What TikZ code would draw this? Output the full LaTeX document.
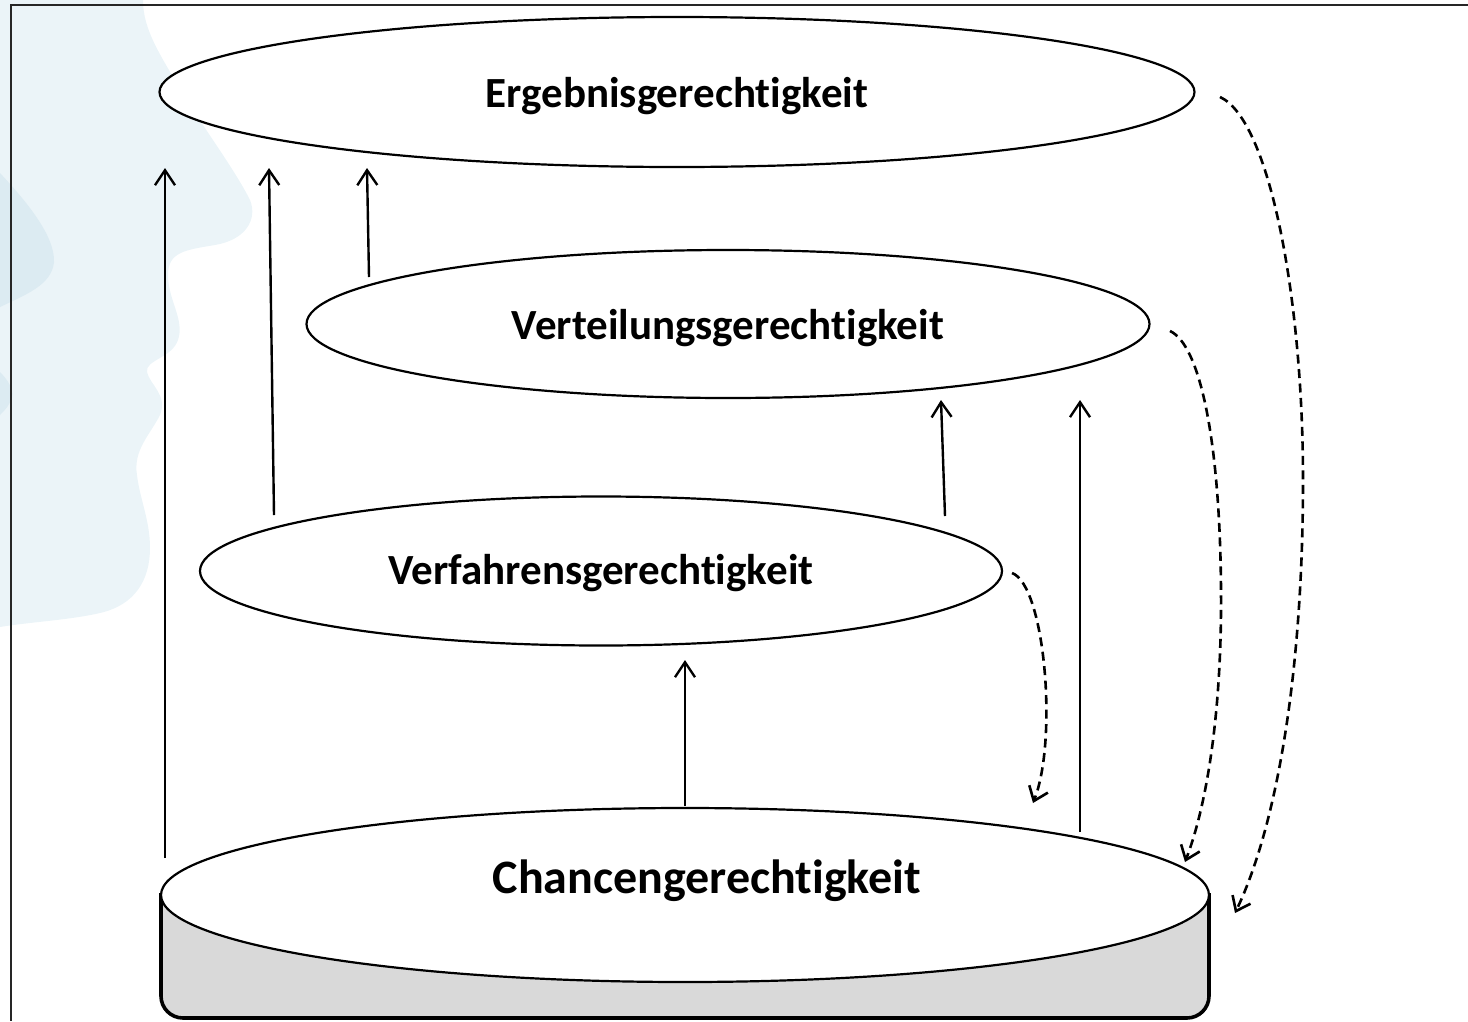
\documentclass[tikz,border=0pt]{standalone}
\usepackage{fontspec}
\setmainfont{Carlito}[Ligatures={NoCommon,NoContextual}]
\usetikzlibrary{shapes.geometric,arrows.meta}
\definecolor{blobA}{HTML}{EBF4F8}
\definecolor{blobB}{HTML}{DCEBF2}
\definecolor{sidegray}{HTML}{D9D9D9}
\newcommand{\tki}{t\kern0pt i}
\begin{document}
\begin{tikzpicture}[x=1pt,y=-1pt,
  ell/.style={ellipse, draw, line width=2.2pt, fill=white, inner sep=0pt},
  lbl/.style={anchor=base, inner sep=0pt, font=\bfseries\fontsize{43}{50}\selectfont},
  uparrow/.style={-{Straight Barb[length=15pt,width=20pt,line width=2.4pt]}, line width=2.4pt},
  backarrow/.style={-{Straight Barb[length=13pt,width=20pt,line width=2.6pt]}, line width=2.6pt, dash pattern=on 9pt off 5.5pt}]
\useasboundingbox (0,0) rectangle (1468,1021);
% background blobs
\fill[blobA] (0,0) -- (143,0) .. controls (143,30) and (160,55) .. (187,100)
  .. controls (205,130) and (235,170) .. (250,200)
  .. controls (258,220) and (245,240) .. (215,245)
  .. controls (185,250) and (168,252) .. (168,275)
  .. controls (168,300) and (185,320) .. (178,340)
  .. controls (172,358) and (145,360) .. (147,372)
  .. controls (150,385) and (168,395) .. (160,415)
  .. controls (150,435) and (133,450) .. (137,475)
  .. controls (140,500) and (150,520) .. (150,548)
  .. controls (150,580) and (135,605) .. (100,613)
  .. controls (70,620) and (30,622) .. (0,627) -- cycle;
\fill[blobB] (0,173) .. controls (25,200) and (55,235) .. (54,262)
  .. controls (52,285) and (25,295) .. (0,307) -- cycle;
\fill[blobB] (0,372) .. controls (8,380) and (14,390) .. (12,397)
  .. controls (10,405) and (5,410) .. (0,415) -- cycle;
% frame
\draw[line width=2.2pt, black!85] (10,5) -- (1468,5);
\draw[line width=2.2pt, black!85] (11,5) -- (11,1021);
% cylinder base
\filldraw[fill=sidegray, draw=black, line width=3.6pt]
  (161,895) [rounded corners=22pt] -- (161,1018) -- (1209,1018) [sharp corners] -- (1209,895) -- cycle;
\node[ell, minimum width=1048pt, minimum height=174pt] (chance) at (685,895) {};
\node[lbl, font=\bfseries\fontsize{48}{56}\selectfont] (chancetext) at (707,893) {Chancengerech\tki gkeit};
% ellipses
\node[ell, minimum width=1035pt, minimum height=150pt] (ergeb) at (677,92) {};
\node[lbl] (ergebtext) at (677,107) {Ergebnisgerech\tki gkeit};
\node[ell, minimum width=843pt, minimum height=148pt] (verteil) at (728,324) {};
\node[lbl] (verteiltext) at (728,339) {Verteilungsgerech\tki gkeit};
\node[ell, minimum width=802pt, minimum height=149pt] (verfahr) at (601,571) {};
\node[lbl] (verfahrtext) at (601,584) {Verfahrensgerech\tki gkeit};
% arrow end points
\coordinate (a1s) at (165,858); \coordinate (a1e) at (165,168);
\coordinate (a2s) at (274,515); \coordinate (a2e) at (269,168);
\coordinate (a3s) at (369,277); \coordinate (a3e) at (367,168);
\coordinate (a4s) at (945,516); \coordinate (a4e) at (941,400);
\coordinate (a5s) at (1080,832); \coordinate (a5e) at (1080,400);
\coordinate (a6s) at (685,806); \coordinate (a6e) at (685,660);
\coordinate (bAs) at (1220,97); \coordinate (bAe) at (1235,913);
\coordinate (bBs) at (1170,331); \coordinate (bBe) at (1185,862);
\coordinate (bCs) at (1012,573); \coordinate (bCe) at (1033,803);
% solid arrows
\draw[uparrow] (a1s) -- (a1e);
\draw[uparrow] (a2s) -- (a2e);
\draw[uparrow] (a3s) -- (a3e);
\draw[uparrow] (a4s) -- (a4e);
\draw[uparrow] (a5s) -- (a5e);
\draw[uparrow] (a6s) -- (a6e);
% dashed feedback arrows
\draw[backarrow] (bAs) .. controls (1270,120) and (1303,300) .. (1303,480)
  .. controls (1303,680) and (1275,830) .. (bAe);
\draw[backarrow] (bBs) .. controls (1200,345) and (1220,440) .. (1221,590)
  .. controls (1222,720) and (1205,810) .. (bBe);
\draw[backarrow] (bCs) .. controls (1045,585) and (1058,740) .. (bCe);
\end{tikzpicture}
\end{document}
